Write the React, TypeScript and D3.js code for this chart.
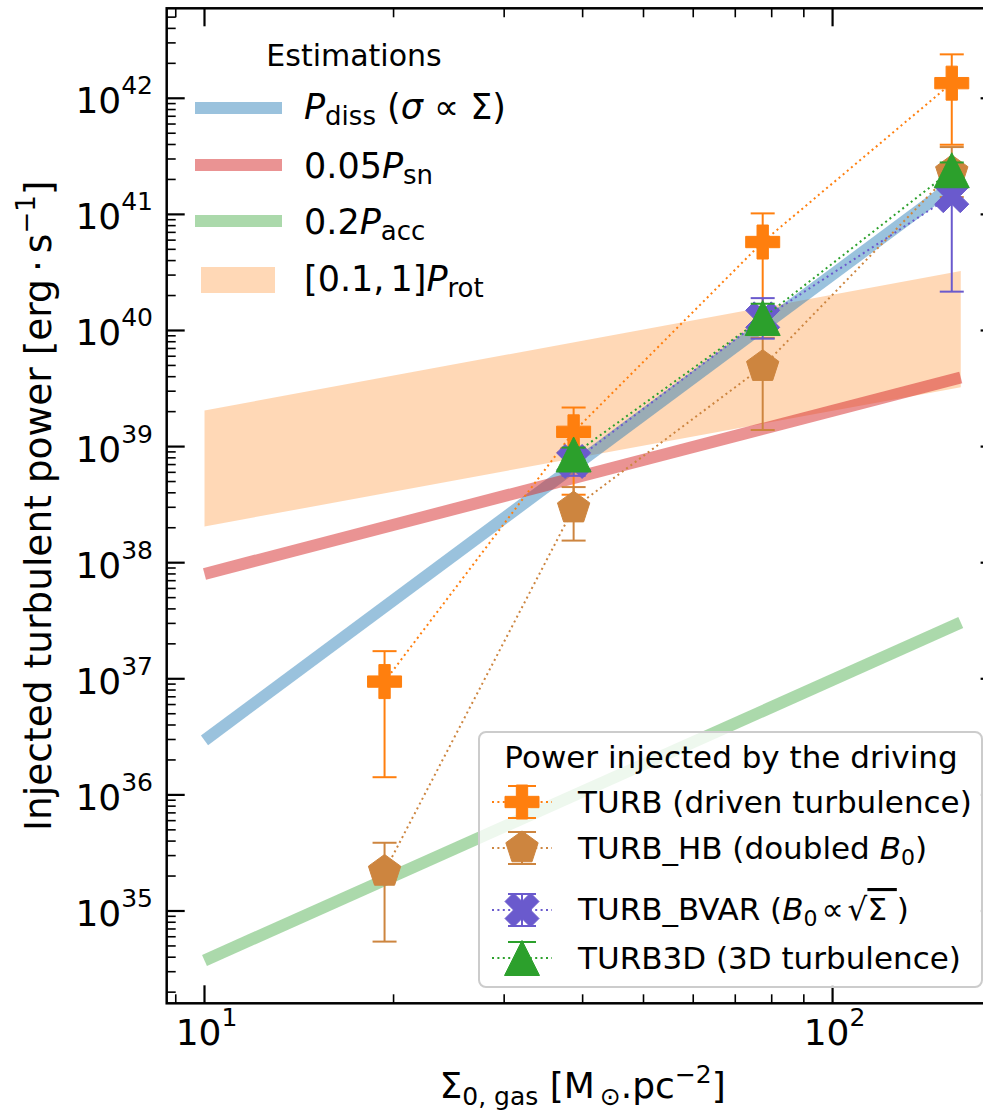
import React from "react";
import * as d3 from "d3";

const W = 983;
const H = 1112;

// Axis limits (log scales)
const xLim = [8.706, 183.8];
const yLim = [1.603e34, 5.957e42];

// Analytic estimates, evaluated at the ends of the Σ range
const sigmaEst = [10, 160];
const pDiss = [2.95e36, 2.0e41];
const pSn05 = [8.0e37, 3.94e39];
const pAcc02 = [3.75e34, 3.05e37];
const pRot = [2.05e39, 3.25e40];

// Simulation runs
const sigmaRuns = [19.35, 38.7, 77.4, 154.8];
const turbP = [9.46e36, 1.34e39, 5.78e40, 1.35e42];
const turbLo = [1.42e36, 3.85e38, 1.58e40, 3.98e41];
const turbHi = [1.73e37, 2.17e39, 1.02e41, 2.39e42];

const hbP = [2.19e35, 2.95e38, 4.88e39, 2.32e41];
const hbLo = [5.45e34, 1.55e38, 1.39e39, 1.41e41];
const hbHi = [3.87e35, 4.48e38, 8.63e39, 3.8e41];

const sigmaRuns3 = [38.7, 77.4, 154.8];
const bvarP = [7.45e38, 1.26e40, 1.45e41];
const bvarLo = [5.6e38, 8.5e39, 2.16e40];
const bvarHi = [9.5e38, 1.9e40, 2.0e41];

const t3dP = [8.55e38, 1.28e40, 2.4e41];
const t3dLo = [7.6e38, 9.8e39, 2.0e41];
const t3dHi = [9.8e38, 1.7e40, 2.8e41];

const yMajorExp = [35, 36, 37, 38, 39, 40, 41, 42];
const xMajorExp = [1, 2];

const FONT = "DejaVu Sans, Verdana, sans-serif";

const C_BLUE = "#1f77b4";
const C_RED = "#d62728";
const C_GREEN = "#2ca02c";
const C_ORANGE = "#ff7f0e";
const C_PERU = "#cd853f";
const C_SLATE = "#6a5acd";

type MarkerKind = "plus" | "pentagon" | "x" | "triangle";

function markerPath(kind: MarkerKind, s: number): string {
  const h = s / 2;
  let pts: [number, number][] = [];
  if (kind === "plus") {
    const a = s / 6;
    pts = [
      [-a, -h], [a, -h], [a, -a], [h, -a], [h, a], [a, a],
      [a, h], [-a, h], [-a, a], [-h, a], [-h, -a], [-a, -a],
    ];
  } else if (kind === "pentagon") {
    for (let k = 0; k < 5; k++) {
      const ang = (-90 + 72 * k) * (Math.PI / 180);
      pts.push([h * Math.cos(ang), h * Math.sin(ang)]);
    }
  } else if (kind === "x") {
    const u = s / 4;
    const base: [number, number][] = [
      [-1, -2], [0, -1], [1, -2], [2, -1], [1, 0], [2, 1],
      [1, 2], [0, 1], [-1, 2], [-2, 1], [-1, 0], [-2, -1],
    ];
    pts = base.map(([px, py]) => [px * u, py * u]);
  } else {
    pts = [[0, -h], [-h, h], [h, h]];
  }
  return "M" + pts.map((p) => p[0].toFixed(2) + "," + p[1].toFixed(2)).join("L") + "Z";
}

type Series = {
  color: string;
  marker: MarkerKind;
  size: number;
  xs: number[];
  ys: number[];
  lo: number[];
  hi: number[];
};

export default function App() {
  const x = d3.scaleLog().domain(xLim).range([166.7, 998.6]);
  const y = d3.scaleLog().domain(yLim).range([1003.3, 8.3]);
  const [X0, X1] = x.range();
  const [Y0, Y1] = y.range();

  const lineGen = d3
    .line<[number, number]>()
    .x((d) => x(d[0]))
    .y((d) => y(d[1]));

  const zipLine = (xs: number[], ys: number[]) =>
    lineGen(xs.map((v, i) => [v, ys[i]] as [number, number])) || "";

  const band =
    d3
      .area<number>()
      .x((d) => x(d))
      .y0((_, i) => y(pRot[i] * 0.1))
      .y1((_, i) => y(pRot[i]))(sigmaEst) || "";

  const series: Series[] = [
    { color: C_ORANGE, marker: "plus", size: 34, xs: sigmaRuns, ys: turbP, lo: turbLo, hi: turbHi },
    { color: C_PERU, marker: "pentagon", size: 34, xs: sigmaRuns, ys: hbP, lo: hbLo, hi: hbHi },
    { color: C_SLATE, marker: "x", size: 34, xs: sigmaRuns3, ys: bvarP, lo: bvarLo, hi: bvarHi },
    { color: C_GREEN, marker: "triangle", size: 35, xs: sigmaRuns3, ys: t3dP, lo: t3dLo, hi: t3dHi },
  ];

  // tick positions
  const yMinor: number[] = [];
  for (let k = 34; k <= 42; k++) {
    for (let m = 2; m <= 9; m++) {
      const v = m * Math.pow(10, k);
      if (v > yLim[0] && v < yLim[1]) yMinor.push(v);
    }
  }
  const xMinor: number[] = [];
  for (let k = 0; k <= 2; k++) {
    for (let m = 2; m <= 9; m++) {
      const v = m * Math.pow(10, k);
      if (v > xLim[0] && v < xLim[1]) xMinor.push(v);
    }
  }

  const MAJ = 18;
  const MIN = 9;
  const capHalf = 12;

  // Legend rows (driving runs)
  const legHandleY = [802, 848, 910, 958];
  const legTextY = [813, 859, 920, 969];
  const legHandleX = 522;
  const LF = 31;

  return (
    <svg
      width={W}
      height={H}
      viewBox={`0 0 ${W} ${H}`}
      style={{ position: "absolute", left: 0, top: 0, background: "#fff" }}
      fontFamily={FONT}
    >
      <rect x={0} y={0} width={W} height={H} fill="#fff" />
      <defs>
        <clipPath id="plotArea">
          <rect x={X0} y={Y1} width={X1 - X0} height={Y0 - Y1} />
        </clipPath>
      </defs>

      {/* analytic estimates */}
      <g clipPath="url(#plotArea)">
        <path d={band} fill={C_ORANGE} fillOpacity={0.3} stroke="none" />
        <path d={zipLine(sigmaEst, pDiss)} stroke={C_BLUE} strokeOpacity={0.45} strokeWidth={12} fill="none" />
        <path d={zipLine(sigmaEst, pSn05)} stroke={C_RED} strokeOpacity={0.5} strokeWidth={12} fill="none" />
        <path d={zipLine(sigmaEst, pAcc02)} stroke={C_GREEN} strokeOpacity={0.4} strokeWidth={12} fill="none" />
      </g>

      {/* simulation runs */}
      <g>
        {series.map((s, si) => (
          <g key={si}>
            <path
              d={zipLine(s.xs, s.ys)}
              stroke={s.color}
              strokeWidth={2}
              strokeDasharray="2,3.4"
              fill="none"
            />
            {s.xs.map((sx, i) => (
              <g key={i} stroke={s.color} strokeWidth={2}>
                <line x1={x(sx)} x2={x(sx)} y1={y(s.lo[i])} y2={y(s.hi[i])} />
                <line x1={x(sx) - capHalf} x2={x(sx) + capHalf} y1={y(s.lo[i])} y2={y(s.lo[i])} />
                <line x1={x(sx) - capHalf} x2={x(sx) + capHalf} y1={y(s.hi[i])} y2={y(s.hi[i])} />
              </g>
            ))}
            {s.xs.map((sx, i) => (
              <path
                key={"m" + i}
                d={markerPath(s.marker, s.size)}
                transform={`translate(${x(sx)},${y(s.ys[i])})`}
                fill={s.color}
                stroke={s.color}
                strokeWidth={1}
              />
            ))}
          </g>
        ))}
      </g>

      {/* ticks */}
      <g stroke="#000">
        {yMajorExp.map((e) => {
          const yy = y(Math.pow(10, e));
          return (
            <g key={"ym" + e} strokeWidth={2.2}>
              <line x1={X0} x2={X0 + MAJ} y1={yy} y2={yy} />
              <line x1={X1} x2={X1 - MAJ} y1={yy} y2={yy} />
            </g>
          );
        })}
        {yMinor.map((v, i) => {
          const yy = y(v);
          return (
            <g key={"yn" + i} strokeWidth={1.6}>
              <line x1={X0} x2={X0 + MIN} y1={yy} y2={yy} />
              <line x1={X1} x2={X1 - MIN} y1={yy} y2={yy} />
            </g>
          );
        })}
        {xMajorExp.map((e) => {
          const xx = x(Math.pow(10, e));
          return (
            <g key={"xm" + e} strokeWidth={2.2}>
              <line x1={xx} x2={xx} y1={Y0} y2={Y0 - MAJ} />
              <line x1={xx} x2={xx} y1={Y1} y2={Y1 + MAJ} />
            </g>
          );
        })}
        {xMinor.map((v, i) => {
          const xx = x(v);
          return (
            <g key={"xn" + i} strokeWidth={1.6}>
              <line x1={xx} x2={xx} y1={Y0} y2={Y0 - MIN} />
              <line x1={xx} x2={xx} y1={Y1} y2={Y1 + MIN} />
            </g>
          );
        })}
      </g>

      {/* spines */}
      <rect x={X0} y={Y1} width={X1 - X0} height={Y0 - Y1} fill="none" stroke="#000" strokeWidth={2.5} />

      {/* tick labels */}
      <g fill="#000">
        {yMajorExp.map((e) => {
          const yy = y(Math.pow(10, e));
          return (
            <text key={"yl" + e} x={153} y={yy + 15} textAnchor="end" fontSize={36}>
              10
              <tspan dy={-19} fontSize={25}>{e}</tspan>
            </text>
          );
        })}
        {xMajorExp.map((e) => {
          const xx = x(Math.pow(10, e));
          return (
            <text key={"xl" + e} x={xx + 2} y={1045} textAnchor="middle" fontSize={36}>
              10
              <tspan dy={-19} fontSize={25}>{e}</tspan>
            </text>
          );
        })}
      </g>

      {/* axis labels */}
      <text
        transform={`translate(51,${(Y0 + Y1) / 2}) rotate(-90)`}
        textAnchor="middle"
        fontSize={37.5}
      >
        Injected turbulent power [erg
        <tspan dx={7}>·</tspan>
        <tspan dx={7}>s</tspan>
        <tspan dy={-16} fontSize={26}>−1</tspan>
        <tspan dy={16}>]</tspan>
      </text>
      <text x={(X0 + X1) / 2} y={1098} textAnchor="middle" fontSize={36}>
        Σ<tspan dy={7} fontSize={25}>0, gas</tspan>
        <tspan dy={-7}> [M</tspan>
        <tspan dy={7} fontSize={25} dx={5}>⊙</tspan>
        <tspan dy={-7}>.pc</tspan>
        <tspan dy={-15} fontSize={25}>−2</tspan>
        <tspan dy={15}>]</tspan>
      </text>

      {/* legend: estimations */}
      <g>
        <text x={354} y={66} textAnchor="middle" fontSize={30}>Estimations</text>
        <line x1={195} x2={282} y1={108} y2={108} stroke={C_BLUE} strokeOpacity={0.45} strokeWidth={12} />
        <line x1={195} x2={282} y1={165} y2={165} stroke={C_RED} strokeOpacity={0.5} strokeWidth={12} />
        <line x1={195} x2={282} y1={221} y2={221} stroke={C_GREEN} strokeOpacity={0.4} strokeWidth={12} />
        <rect x={201} y={267} width={74} height={26} fill={C_ORANGE} fillOpacity={0.3} />
        <text x={304} y={119} fontSize={35}>
          <tspan fontStyle="italic">P</tspan>
          <tspan dy={6} fontSize={26}>diss</tspan>
          <tspan dy={-6}> (</tspan>
          <tspan fontStyle="italic">σ</tspan>
          <tspan> ∝ Σ)</tspan>
        </text>
        <text x={304} y={178} fontSize={35}>
          0.05<tspan fontStyle="italic">P</tspan>
          <tspan dy={6} fontSize={26}>sn</tspan>
        </text>
        <text x={304} y={234} fontSize={35}>
          0.2<tspan fontStyle="italic">P</tspan>
          <tspan dy={6} fontSize={26}>acc</tspan>
        </text>
        <text x={304} y={291} fontSize={35}>
          [0.1,<tspan dx={6}>1]</tspan>
          <tspan fontStyle="italic">P</tspan>
          <tspan dy={6} fontSize={26}>rot</tspan>
        </text>
      </g>

      {/* legend: driving runs */}
      <g>
        <rect
          x={479}
          y={732}
          width={503}
          height={255}
          rx={7}
          ry={7}
          fill="#fff"
          fillOpacity={0.8}
          stroke="#cccccc"
          strokeWidth={2}
        />
        <text x={731} y={768} textAnchor="middle" fontSize={LF}>
          Power injected by the driving
        </text>
        {series.map((s, i) => {
          const ry = legHandleY[i];
          return (
            <g key={"lg" + i}>
              <line
                x1={legHandleX - 30}
                x2={legHandleX + 30}
                y1={ry}
                y2={ry}
                stroke={s.color}
                strokeWidth={2}
                strokeDasharray="2,3.4"
              />
              <g stroke={s.color} strokeWidth={2}>
                <line x1={legHandleX} x2={legHandleX} y1={ry - 16} y2={ry + 16} />
                <line x1={legHandleX - 14} x2={legHandleX + 14} y1={ry - 16} y2={ry - 16} />
                <line x1={legHandleX - 14} x2={legHandleX + 14} y1={ry + 16} y2={ry + 16} />
              </g>
              <path
                d={markerPath(s.marker, s.size)}
                transform={`translate(${legHandleX},${ry})`}
                fill={s.color}
                stroke={s.color}
                strokeWidth={1}
              />
            </g>
          );
        })}
        <text x={578} y={legTextY[0]} fontSize={LF}>TURB (driven turbulence)</text>
        <text x={578} y={legTextY[1]} fontSize={LF}>
          TURB_HB (doubled <tspan fontStyle="italic">B</tspan>
          <tspan dy={6} fontSize={22}>0</tspan>
          <tspan dy={-6}>)</tspan>
        </text>
        <text x={578} y={legTextY[2]} fontSize={LF}>
          TURB_BVAR (<tspan fontStyle="italic">B</tspan>
          <tspan dy={6} fontSize={22}>0</tspan>
          <tspan dy={-6} dx={4}>∝</tspan>
          <tspan dx={4}>√</tspan>
          <tspan style={{ textDecoration: "overline" }}>Σ </tspan>
          <tspan>)</tspan>
        </text>
        <text x={578} y={legTextY[3]} fontSize={LF}>TURB3D (3D turbulence)</text>
      </g>
    </svg>
  );
}
